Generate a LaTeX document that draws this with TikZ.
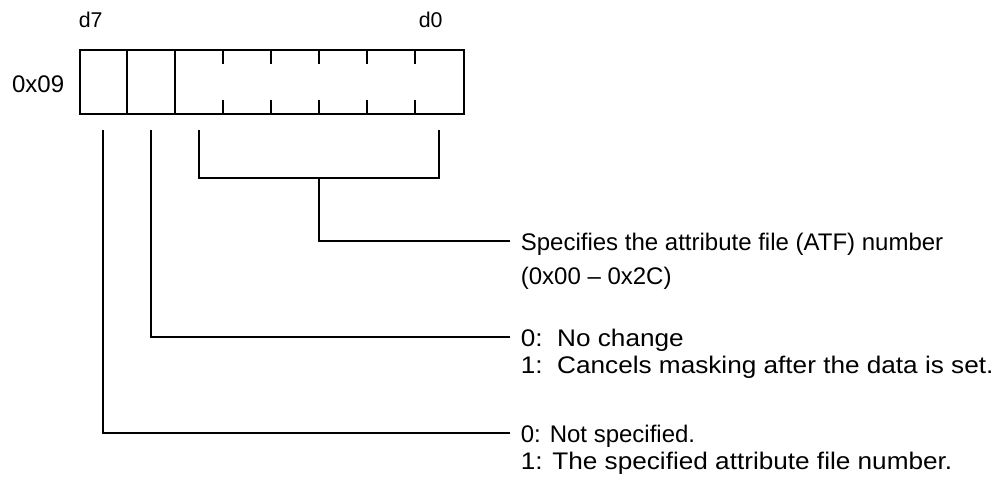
\documentclass[tikz,border=0pt]{standalone}
\usepackage{fontspec}
\setmainfont{Liberation Sans}
\usetikzlibrary{calc}
\begin{document}
\begin{tikzpicture}[x=0.75pt,y=-0.75pt,line width=1.3pt,
  lbl/.style={anchor=base west,inner sep=0pt,font=\fontsize{18}{21}\selectfont},
  bitlbl/.style={anchor=base west,inner sep=0pt,font=\fontsize{16}{19}\selectfont},
  regbox/.style={draw,inner sep=0pt,minimum width=288pt,minimum height=48pt,anchor=north west}]
\useasboundingbox (0,0) rectangle (1000,482);
% register
\node[regbox] (reg) at (79,49) {};
\foreach \i in {1,2}
  \draw ($(reg.north west)+(48*\i,0)$) -- ($(reg.south west)+(48*\i,0)$);
\foreach \i in {3,...,7}{
  \draw ($(reg.north west)+(48*\i,0)$) -- +(0,15);
  \draw ($(reg.south west)+(48*\i,0)$) -- +(0,-15);
}
\node[lbl,anchor=base east] (hex) at (65,92) {0x09};
\node[bitlbl] (d7) at (78,27) {d7};
\node[bitlbl] (d0) at (418,27) {d0};
% labels
\node[lbl] (a1) at (520,250) {Specifies the attribute file (ATF) number};
\node[lbl] (a2) at (520,284) {(0x00 -- 0x2C)};
\node[lbl] (b1) at (520,346) {\scalebox{1.09}[1]{0:\ \ No change}};
\node[lbl] (b2) at (520,373) {\scalebox{1.09}[1]{1:\ \ Cancels masking after the data is set.}};
\node[lbl] (c1) at (520,442) {0: Not specified.};
\node[lbl] (c2) at (520,469) {\scalebox{1.09}[1]{1: The specified attribute file number.}};
% leaders
\coordinate (b7) at (103,130);
\coordinate (b6) at (151,130);
\coordinate (b5) at (199,130);
\coordinate (b0) at (439,130);
\coordinate (brL) at (199,178);
\coordinate (brR) at (439,178);
\coordinate (brM) at (319,178);
\draw (b5) -- (brL) -- (brR) -- (b0);
\draw (brM) |- ($(a1.base west)+(-10,-9)$);
\draw (b6) |- ($(b1.base west)+(-10,-9)$);
\draw (b7) |- ($(c1.base west)+(-10,-9)$);
\end{tikzpicture}
\end{document}
